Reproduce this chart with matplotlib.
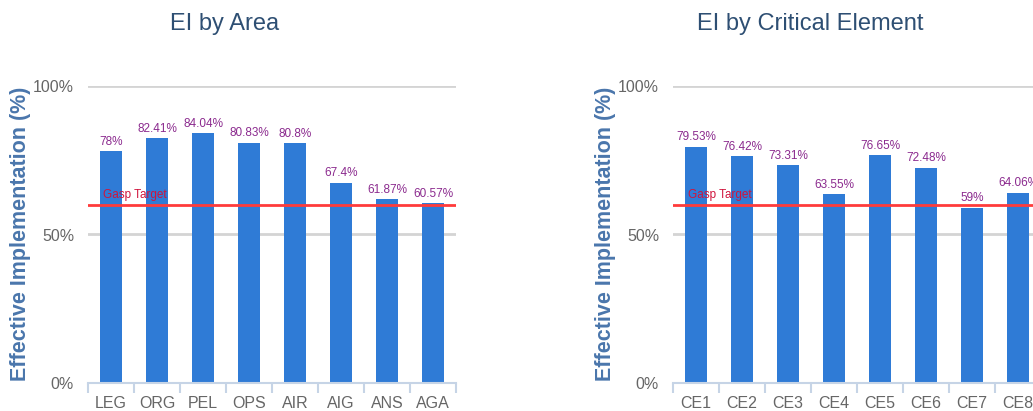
import matplotlib
matplotlib.use("Agg")
import matplotlib.pyplot as plt
import numpy as np

area_cats = ["LEG", "ORG", "PEL", "OPS", "AIR", "AIG", "ANS", "AGA"]
area_vals = [78, 82.41, 84.04, 80.83, 80.8, 67.4, 61.87, 60.57]
area_labels = ["78%", "82.41%", "84.04%", "80.83%", "80.8%", "67.4%", "61.87%", "60.57%"]

ce_cats = ["CE1", "CE2", "CE3", "CE4", "CE5", "CE6", "CE7", "CE8"]
ce_vals = [79.53, 76.42, 73.31, 63.55, 76.65, 72.48, 59, 64.06]
ce_labels = ["79.53%", "76.42%", "73.31%", "63.55%", "76.65%", "72.48%", "59%", "64.06%"]

target = 60
yticks = [0, 50, 100]
ytick_labels = ["0%", "50%", "100%"]

regular = ["Liberation Sans", "DejaVu Sans"]

W, H = 1033, 411
fig = plt.figure(figsize=(W / 100, H / 100), dpi=100)

bar_color = "#2F7BD6"
label_color = "#8B2A8E"
axis_color = "#C6D4E6"
grid_color = "#D4D4D4"
tick_color = "#666666"
title_color = "#2E4F73"
ylabel_color = "#4A76AC"


def panel(x0px, cats, vals, labels, title, title_cx, ylabel_x):
    left = x0px / W
    bottom = (H - 383) / H
    height = (383 - 86) / H
    width = 368 / W
    ax = fig.add_axes([left, bottom, width, height])
    x = np.arange(len(cats))
    ax.set_xlim(-0.5, len(cats) - 0.5)
    ax.set_ylim(0, 100)
    for g in [50, 100]:
        ax.axhline(g, color=grid_color, lw=2, zorder=0)
    ax.bar(x, vals, width=0.46, color=bar_color, zorder=2)
    for xi, v, lab in zip(x, vals, labels):
        ax.annotate(lab, (xi, v), xytext=(0, 2.5), textcoords="offset points",
                    ha="center", va="bottom", fontsize=8.5, color=label_color,
                    family=regular, zorder=4, annotation_clip=False)
    ax.axhline(target, color="#FF3B3B", lw=2, zorder=3)
    ax.text(-0.17, target + 1.2, "Gasp Target", fontsize=8.5, color="#D0143C",
            family=regular, ha="left", va="bottom", zorder=4)
    for s in ["top", "right", "left"]:
        ax.spines[s].set_visible(False)
    ax.spines["bottom"].set_color(axis_color)
    ax.spines["bottom"].set_linewidth(1.5)
    ax.set_xticks(x)
    ax.set_xticklabels(cats, family=regular, fontsize=11.5, color=tick_color)
    ax.tick_params(axis="x", which="major", length=0, pad=9)
    ax.set_xticks(np.arange(-0.5, len(cats), 1.0), minor=True)
    ax.tick_params(axis="x", which="minor", length=7, color=axis_color, width=1.5)
    ax.set_yticks(yticks)
    ax.set_yticklabels(ytick_labels, family=regular, fontsize=11.5, color=tick_color)
    ax.tick_params(axis="y", length=0, pad=10)
    fig.text(title_cx / W, 1 - 24 / H, title, ha="center", va="center",
             fontsize=17, color=title_color, family=regular)
    fig.text(ylabel_x / W, (H - 234) / H, "Effective Implementation (%)",
             rotation=90, ha="center", va="center", fontsize=15.5,
             fontweight="bold", color=ylabel_color, family=regular)
    return ax


panel(88, area_cats, area_vals, area_labels, "EI by Area", 225, 21)
panel(673, ce_cats, ce_vals, ce_labels, "EI by Critical Element", 810, 605)

fig.savefig("out.png", dpi=100)
